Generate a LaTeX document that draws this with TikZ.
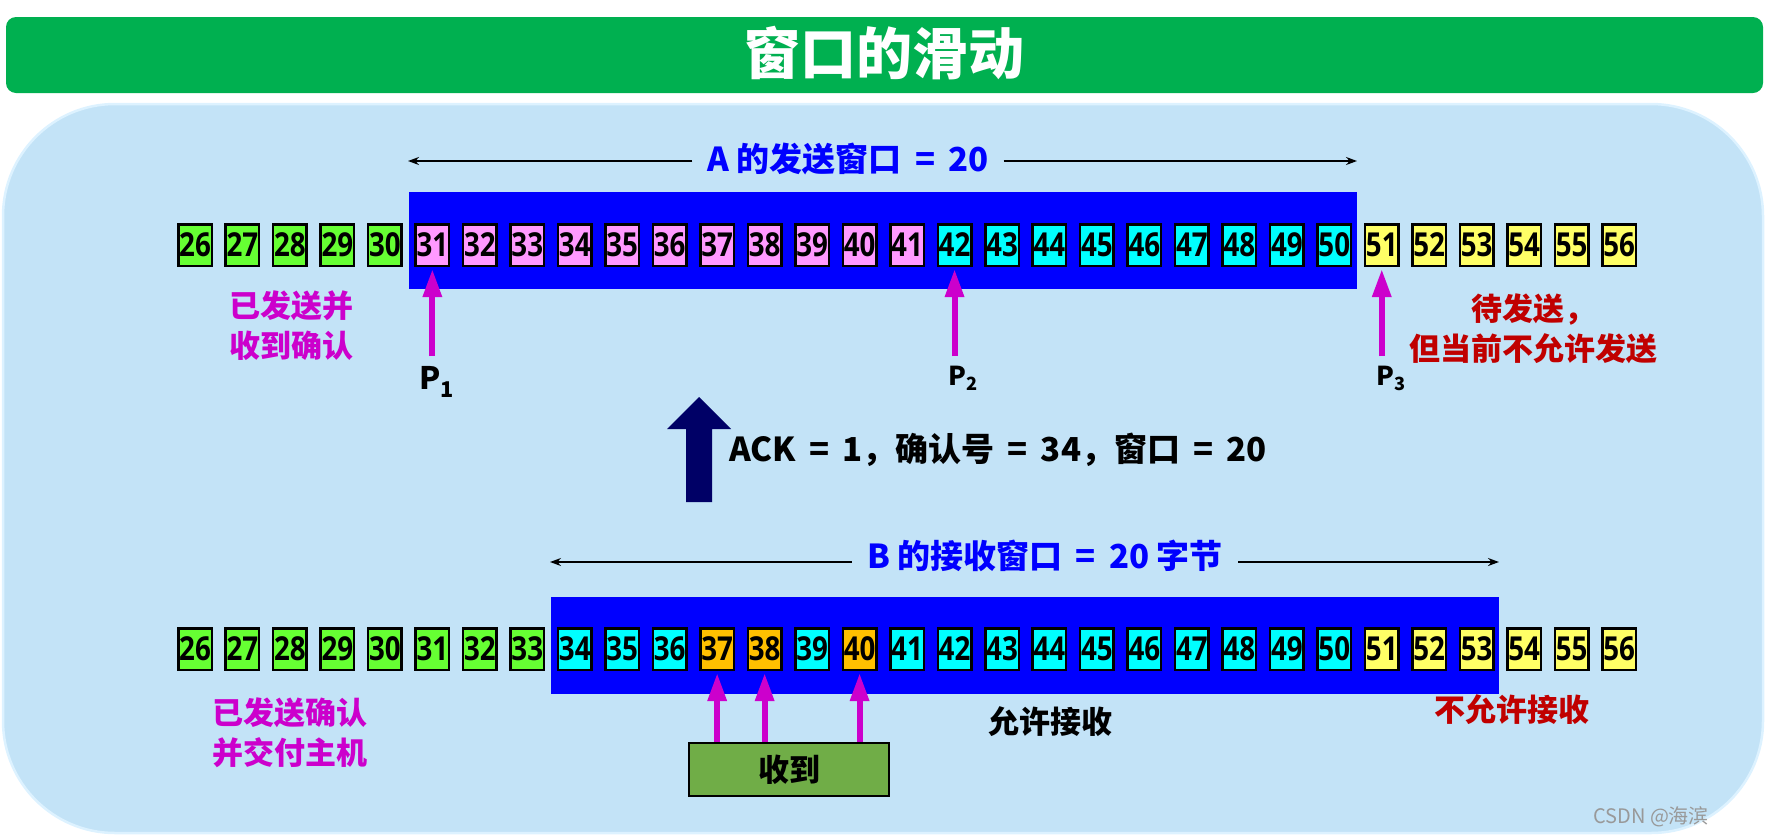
\documentclass[tikz,border=0pt]{standalone}
\usepackage{fontspec}
\setmainfont{Noto Sans CJK SC}
\newfontfamily\dig{Open Sans}[FakeStretch=0.84]
\usetikzlibrary{arrows.meta}
\newcommand\myeq{\hspace{.4em}=\hspace{.4em}}
\definecolor{titlegreen}{HTML}{00B050}
\definecolor{panel}{HTML}{C3E3F7}
\definecolor{paneledge}{HTML}{DDF2FF}
\definecolor{cgreen}{HTML}{66FF33}
\definecolor{cpink}{HTML}{FF99FF}
\definecolor{ccyan}{HTML}{00FFFF}
\definecolor{cyellow}{HTML}{FFFF66}
\definecolor{corange}{HTML}{FFC000}
\definecolor{wblue}{HTML}{0000FF}
\definecolor{mag}{HTML}{CC00CC}
\definecolor{dred}{HTML}{C00000}
\definecolor{navy}{HTML}{000066}
\definecolor{recvgreen}{HTML}{70AD47}
\tikzset{
  x=1pt,y=-1pt,
  cell/.style={draw=black,line width=2.5pt,minimum width=33.5pt,minimum height=41.5pt,inner sep=0pt,
    font=\dig\bfseries\fontsize{33}{33}\selectfont},
  winbox/.style={fill=wblue,inner sep=0pt,minimum width=948pt,minimum height=97pt},
  lbl/.style={font=\bfseries\fontsize{31}{40}\selectfont,align=center,inner sep=0pt},
  dimlabel/.style={font=\bfseries\fontsize{33}{33}\selectfont,text=wblue,inner ysep=2pt,inner xsep=15pt},
  dimarrow/.style={line width=1.6pt,-{Stealth[length=11pt,width=8pt]}},
  marrow/.style={draw=mag,line width=6pt,-{Triangle[length=28pt,width=18pt]}},
  plabel/.style={font=\bfseries\fontsize{26}{26}\selectfont,inner sep=0pt},
}
\begin{document}
\begin{tikzpicture}
\useasboundingbox (0,0) rectangle (1766,836);
% title bar
\node[fill=titlegreen,rounded corners=10pt,minimum width=1757pt,minimum height=76pt,inner sep=0pt] (titlebar) at (884.5,55) {};
\node[font=\bfseries\fontsize{56}{56}\selectfont,text=white] (title) at (884,53) {窗口的滑动};
% panel
\path[fill=panel,draw=paneledge,line width=2.5pt,rounded corners=112pt] (3,104) rectangle (1763,833);
% windows
\node[winbox] (winA) at (883,240.5) {};
\node[winbox] (winB) at (1025,645.5) {};
% top row
\foreach \n in {26,...,56}{
  \pgfmathsetmacro\xx{195+(\n-26)*47.47}
  \ifnum\n<31 \def\fc{cgreen}\else\ifnum\n<42 \def\fc{cpink}\else\ifnum\n<51 \def\fc{ccyan}\else\def\fc{cyellow}\fi\fi\fi
  \node[cell,fill=\fc] (t\n) at (\xx,245) {\n};
}
% bottom row
\foreach \n in {26,...,56}{
  \pgfmathsetmacro\xx{195+(\n-26)*47.47}
  \ifnum\n<34 \def\fc{cgreen}\else\ifnum\n<51 \def\fc{ccyan}\else\def\fc{cyellow}\fi\fi
  \ifnum\n=37 \def\fc{corange}\fi
  \ifnum\n=38 \def\fc{corange}\fi
  \ifnum\n=40 \def\fc{corange}\fi
  \node[cell,fill=\fc] (b\n) at (\xx,649) {\n};
}
% dimension lines
\node[dimlabel] (lblA) at (848,159) {A 的发送窗口\myeq 20};
\coordinate (aL) at (408,161);
\coordinate (aR) at (1357,161);
\draw[dimarrow] (lblA.west |- aL) -- (aL);
\draw[dimarrow] (lblA.east |- aR) -- (aR);
\node[dimlabel] (lblB) at (1045,556) {B 的接收窗口\myeq 20 字节};
\coordinate (bL) at (550,562);
\coordinate (bR) at (1499,562);
\draw[dimarrow] (lblB.west |- bL) -- (bL);
\draw[dimarrow] (lblB.east |- bR) -- (bR);
% pointers
\coordinate (p1) at (t31.south |- 0,356);
\coordinate (p2) at (t42.south |- 0,356);
\coordinate (p3) at (t51.south |- 0,356);
\draw[marrow] (p1) -- ([yshift=-2pt]t31.south);
\draw[marrow] (p2) -- ([yshift=-2pt]t42.south);
\draw[marrow] (p3) -- ([yshift=-2pt]t51.south);
\node[plabel,font=\bfseries\fontsize{31}{31}\selectfont] (P1) at (437,382) {P\textsubscript{1}};
\node[plabel] (P2) at (963,378) {P\textsubscript{2}};
\node[plabel] (P3) at (1391,378) {P\textsubscript{3}};
% side labels
\node[lbl,text=mag] (sentA) at (291,326) {已发送并\\收到确认};
\node[lbl,text=dred] (waitA) at (1533,329) {待发送，\\但当前不允许发送};
\node[lbl,text=mag] (sentB) at (290,733) {已发送确认\\并交付主机};
\node[lbl,text=dred] (notB) at (1512,710) {不允许接收};
\node[lbl,text=black] (allowB) at (1050,722) {允许接收};
% big ACK arrow
\fill[navy] (699,397) -- (731,429) -- (712,429) -- (712,502) -- (686,502) -- (686,429) -- (667,429) -- cycle;
\node[font=\bfseries\fontsize{33}{33}\selectfont,inner sep=0pt] (ack) at (998,450) {ACK\myeq 1，确认号\myeq 34，窗口\myeq 20};
% received box
\node[draw=black,line width=2.5pt,fill=recvgreen,minimum width=200pt,minimum height=53pt,inner sep=0pt,
  font=\bfseries\fontsize{31}{31}\selectfont] (recv) at (789,769.5) {收到};
\draw[marrow] (recv.north -| b37) -- ([yshift=-2pt]b37.south);
\draw[marrow] (recv.north -| b38) -- ([yshift=-2pt]b38.south);
\draw[marrow] (recv.north -| b40) -- ([yshift=-2pt]b40.south);
% watermark
\node[anchor=west,text=gray!80,font=\fontsize{20}{20}\selectfont,inner sep=0pt] (wm) at (1593,817) {CSDN @海滨};
\end{tikzpicture}
\end{document}
